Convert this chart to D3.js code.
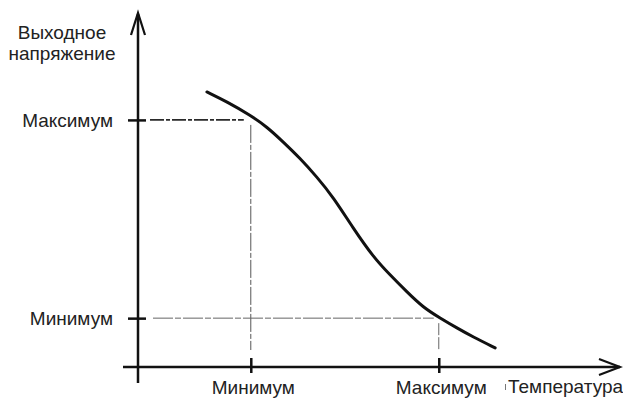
<!DOCTYPE html>
<html>
<head>
<meta charset="utf-8">
<script src="https://cdn.jsdelivr.net/npm/d3@7"></script>
<style>
  html, body { margin: 0; padding: 0; background: #fff; }
  svg { display: block; }
  text { font-family: "Liberation Sans", Arial, sans-serif; fill: #222; }
</style>
</head>
<body>
<svg id="chart" width="623" height="399"></svg>
<script>
// Output voltage vs temperature (qualitative characteristic)
const curveT = [14.3, 18.5, 23.2, 26.8, 30.1, 33.6, 37.1, 40.5, 44.6, 48.8, 52.3, 55.8, 59.1, 62.7, 66.2, 69.5, 74.1];
const curveV = [77.7, 74.9, 71.2, 67.8, 63.6, 59.0, 53.7, 48.0, 39.3, 31.1, 26.0, 21.2, 16.9, 13.8, 11.0, 8.5, 5.4];

const xTickValues = [23.4, 62.4];
const xTickLabels = ["Минимум", "Максимум"];
const yTickValues = [13.8, 69.8];
const yTickLabels = ["Минимум", "Максимум"];

const xTitle = "Температура";
const yTitle = ["Выходное", "напряжение"];

const svg = d3.select("#chart");
const FONT = 19;

const x = d3.scaleLinear().domain([0, 100]).range([138, 620]);
const y = d3.scaleLinear().domain([0, 100]).range([367, 13]);

const x0 = x(0), y0 = y(0);

// Guide lines from the curve to the axes
const guides = svg.append("g").attr("fill", "none");
// upper horizontal
guides.append("line")
  .attr("x1", x0 + 12).attr("x2", x(xTickValues[0]) - 7)
  .attr("y1", y(yTickValues[1])).attr("y2", y(yTickValues[1]))
  .attr("stroke", "#2a2a2a").attr("stroke-width", 1.6)
  .attr("stroke-dasharray", "14,2,4,2");
// left vertical
guides.append("line")
  .attr("x1", x(xTickValues[0])).attr("x2", x(xTickValues[0]))
  .attr("y1", y(yTickValues[1]) + 5).attr("y2", y0 - 17)
  .attr("stroke", "#555").attr("stroke-width", 1)
  .attr("stroke-dasharray", "18,2,5,2");
// lower horizontal
guides.append("line")
  .attr("x1", x0 + 15).attr("x2", x(xTickValues[1]) - 5)
  .attr("y1", y(yTickValues[0])).attr("y2", y(yTickValues[0]))
  .attr("stroke", "#666").attr("stroke-width", 1)
  .attr("stroke-dasharray", "20,2,6,2");
// right vertical
guides.append("line")
  .attr("x1", x(xTickValues[1])).attr("x2", x(xTickValues[1]))
  .attr("y1", y(yTickValues[0]) + 5).attr("y2", y0 - 17)
  .attr("stroke", "#666").attr("stroke-width", 1)
  .attr("stroke-dasharray", "12,2");

// Characteristic curve
const pts = curveT.map((t, i) => [t, curveV[i]]);
svg.append("path")
  .datum(pts)
  .attr("fill", "none")
  .attr("stroke", "#111")
  .attr("stroke-width", 3)
  .attr("stroke-linecap", "round")
  .attr("d", d3.line().x(d => x(d[0])).y(d => y(d[1])).curve(d3.curveBasis));

// Axes lines with open arrowheads
const axes = svg.append("g").attr("stroke", "#111").attr("fill", "none")
  .attr("stroke-width", 2.5);
axes.append("line").attr("x1", x0).attr("x2", x0).attr("y1", 383).attr("y2", y(100) + 1);
axes.append("line").attr("x1", 123).attr("x2", x(100)).attr("y1", y0).attr("y2", y0);
axes.append("path")
  .attr("stroke-width", 2.2).attr("stroke-linejoin", "miter")
  .attr("d", `M${x0 - 7},${y(100) + 22} L${x0},${y(100)} L${x0 + 7},${y(100) + 22}`);
axes.append("path")
  .attr("stroke-width", 2.2).attr("stroke-linejoin", "miter")
  .attr("d", `M${x(100) - 21},${y0 - 8} L${x(100)},${y0} L${x(100) - 21},${y0 + 8}`);

// Bottom axis ticks and labels
const xAxis = d3.axisBottom(x)
  .tickValues(xTickValues)
  .tickFormat((d, i) => xTickLabels[i])
  .tickSize(6)
  .tickPadding(0);
const gx = svg.append("g").attr("transform", `translate(0,${y0})`).call(xAxis);
gx.select(".domain").remove();
gx.selectAll(".tick line").attr("y1", -9).attr("y2", 6)
  .attr("stroke", "#111").attr("stroke-width", 2.5);
gx.selectAll(".tick text")
  .attr("dy", null).attr("y", 27)
  .attr("dx", 2)
  .attr("font-size", FONT).attr("font-family", "Liberation Sans, Arial, sans-serif")
  .attr("fill", "#222");

// Left axis ticks and labels
const yAxis = d3.axisLeft(y)
  .tickValues(yTickValues)
  .tickFormat((d, i) => yTickLabels[i])
  .tickSize(10)
  .tickPadding(15);
const gy = svg.append("g").attr("transform", `translate(${x0},0)`).call(yAxis);
gy.select(".domain").remove();
gy.selectAll(".tick line").attr("x1", -10).attr("x2", 8)
  .attr("stroke", "#111").attr("stroke-width", 2.5);
gy.selectAll(".tick text")
  .attr("dy", "0.34em")
  .attr("font-size", FONT).attr("font-family", "Liberation Sans, Arial, sans-serif")
  .attr("fill", "#222");

// Axis titles
const yt = svg.append("text").attr("text-anchor", "middle").attr("font-size", FONT);
yTitle.forEach((s, i) => {
  yt.append("tspan").attr("x", 62).attr("y", 39 + i * 20.5).text(s);
});
svg.append("text")
  .attr("x", 508).attr("y", 393)
  .attr("font-size", FONT)
  .text(xTitle);
svg.append("line")
  .attr("x1", 505.5).attr("x2", 505.5).attr("y1", 384).attr("y2", 390)
  .attr("stroke", "#777").attr("stroke-width", 1);
</script>
</body>
</html>
